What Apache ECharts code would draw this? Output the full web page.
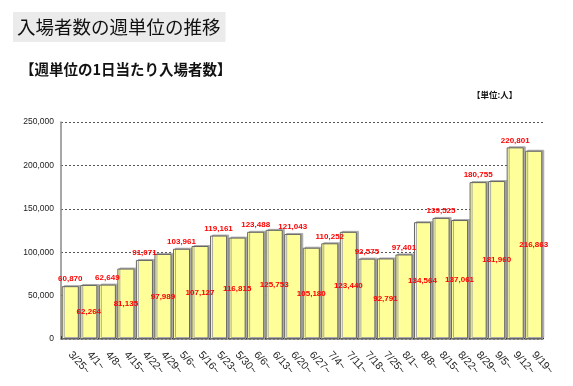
<!DOCTYPE html>
<html><head><meta charset="utf-8">
<script src="https://cdn.jsdelivr.net/npm/echarts@6/dist/echarts.min.js"></script>
<style>html,body{margin:0;padding:0;background:#fff}#c{width:573px;height:386px}</style>
</head><body><div id="c"></div>
<script>
const categories = ['3/25~','4/1~','4/8~','4/15~','4/22~','4/29~','5/6~','5/16~','5/23~','5/30~','6/6~','6/13~','6/20~','6/27~','7/4~','7/11~','7/18~','7/25~','8/1~','8/8~','8/15~','8/22~','8/29~','9/5~','9/12~','9/19~'];
const visitors = [60870,62264,62649,81135,91071,97989,103961,107127,119161,116815,123488,125753,121043,105180,110252,123440,92575,92791,97401,134564,139525,137061,180755,181960,220801,216863];
const yTicks = [0,50000,100000,150000,200000,250000];

const chart = echarts.init(document.getElementById('c'), null, {renderer:'canvas'});
const fmt = v => v.toLocaleString('en-US');
chart.setOption({
  animation:false,
  title:[
    {text:'入場者数の週単位の推移', left:13, top:12, padding:[5,5,5,4], backgroundColor:'#ebebeb',
     textStyle:{fontFamily:'Noto Sans CJK JP', fontSize:18.5, fontWeight:'normal', color:'#111', lineHeight:20}},
    {text:'【週単位の1日当たり入場者数】', left:20, top:62, padding:0,
     textStyle:{fontFamily:'Noto Sans CJK JP', fontSize:14.5, fontWeight:'bold', color:'#111'}},
    {text:'【単位:人】', left:472, top:91, padding:0,
     textStyle:{fontFamily:'Noto Sans CJK JP', fontSize:8.5, fontWeight:'bold', color:'#111'}}
  ],
  grid:{left:61, right:30, top:122, bottom:47, containLabel:false},
  xAxis:{type:'category', data:categories,
    axisLine:{lineStyle:{color:'#888', width:1.5}},
    axisTick:{show:true, inside:true, length:3, lineStyle:{color:'#333'}},
    axisLabel:{rotate:-48, interval:0, margin:14, fontFamily:'Liberation Sans', fontSize:10.5, color:'#222'}},
  yAxis:{type:'value', min:yTicks[0], max:yTicks[yTicks.length-1], interval:yTicks[1]-yTicks[0],
    axisLine:{show:true, lineStyle:{color:'#888', width:1.5}},
    axisTick:{show:false},
    axisLabel:{margin:7, fontFamily:'Liberation Sans', fontSize:8.5, color:'#222', formatter:fmt},
    splitLine:{lineStyle:{color:'#555', type:[2,2], width:1}}},
  series:[{type:'bar', barCategoryGap:'8%',
    data: visitors.map((v,i)=>({value:v, label:{position: i%2===0 ? 'top' : 'inside'}})),
    itemStyle:{color:'#ffff99', borderColor:'#666', borderWidth:1, shadowColor:'#aaa', shadowOffsetX:2, shadowOffsetY:-1, shadowBlur:0},
    label:{show:true, formatter:p=>fmt(p.value), color:'#ff0000', fontFamily:'Liberation Sans', fontWeight:'bold', fontSize:8, distance:3}
  }]
});
</script></body></html>
